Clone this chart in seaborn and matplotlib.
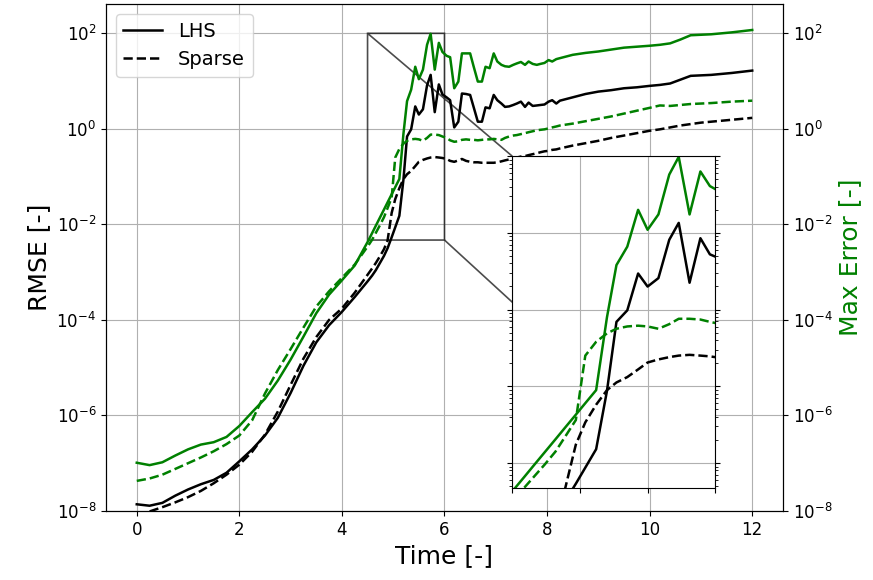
import numpy as np
import pandas as pd
import matplotlib
matplotlib.use("Agg")
import matplotlib.pyplot as plt
import seaborn as sns

# ---- data (values given as log10 exponents) ----
time = [0.0, 0.25, 0.5, 0.75, 1.0, 1.25, 1.5, 1.75, 2.0, 2.25, 2.5, 2.75, 3.0, 3.25, 3.5, 3.75, 4.0, 4.25,
        4.51, 4.59, 4.66, 4.74, 4.82, 4.89, 4.97, 5.04, 5.12, 5.20,
        5.27, 5.35, 5.43, 5.50, 5.58, 5.66, 5.73, 5.81, 5.89, 5.96,
        6.04, 6.11, 6.19, 6.27, 6.34, 6.42, 6.50, 6.57, 6.65, 6.73,
        6.80, 6.88, 6.96, 7.03, 7.11, 7.18, 7.26, 7.34, 7.41, 7.49,
        7.57, 7.64, 7.72, 7.80, 7.87, 7.95, 8.03, 8.10, 8.18, 8.25,
        8.5, 8.75, 9.0, 9.25, 9.5, 9.75, 10.0, 10.2, 10.4, 10.6,
        10.8, 11.0, 11.2, 11.6, 12.0]

lhs_rmse_exp = [-7.86, -7.89, -7.83, -7.68, -7.55, -7.44, -7.35, -7.20, -6.96, -6.71, -6.42, -6.05, -5.53, -4.96, -4.47, -4.11, -3.83, -3.52,
                -3.18, -3.07, -2.96, -2.81, -2.66, -2.50, -2.27, -2.06, -1.82, -1.06,
                -0.16, -0.01, 0.47, 0.30, 0.41, 0.91, 1.13, 0.35, 0.93, 0.72,
                0.66, 0.60, 0.03, 0.15, 0.74, 0.73, 0.71, 0.45, 0.15, 0.15,
                0.45, 0.43, 0.71, 0.60, 0.53, 0.46, 0.47, 0.50, 0.53, 0.57,
                0.46, 0.55, 0.48, 0.49, 0.50, 0.51, 0.57, 0.60, 0.53, 0.59,
                0.66, 0.73, 0.78, 0.81, 0.85, 0.87, 0.90, 0.92, 0.95, 1.03,
                1.11, 1.12, 1.13, 1.17, 1.22]

sparse_rmse_exp = [-8.08, -8.01, -7.92, -7.82, -7.71, -7.58, -7.42, -7.24, -7.03, -6.76, -6.40, -5.92, -5.36, -4.81, -4.36, -4.00, -3.76, -3.43,
                   -3.04, -2.92, -2.81, -2.67, -2.52, -2.34, -1.76, -1.47, -1.24, -1.05,
                   -0.95, -0.88, -0.78, -0.69, -0.65, -0.62, -0.60, -0.59, -0.60, -0.61,
                   -0.63, -0.67, -0.69, -0.66, -0.63, -0.67, -0.69, -0.70, -0.70, -0.71,
                   -0.71, -0.71, -0.71, -0.70, -0.68, -0.66, -0.64, -0.62, -0.60, -0.58,
                   -0.57, -0.55, -0.53, -0.51, -0.49, -0.47, -0.46, -0.44, -0.43, -0.41,
                   -0.35, -0.30, -0.25, -0.19, -0.14, -0.09, -0.04, -0.01, 0.03, 0.07,
                   0.10, 0.13, 0.15, 0.19, 0.23]

lhs_max_exp = [-6.99, -7.04, -6.98, -6.84, -6.71, -6.61, -6.56, -6.45, -6.22, -5.93, -5.65, -5.27, -4.83, -4.35, -3.86, -3.47, -3.17, -2.86,
               -2.35, -2.18, -2.03, -1.86, -1.69, -1.54, -1.37, -1.22, -1.05, -0.10,
               0.58, 0.82, 1.30, 1.04, 1.24, 1.76, 1.99, 1.24, 1.80, 1.61,
               1.53, 1.50, 0.85, 0.99, 1.58, 1.58, 1.58, 1.30, 0.99, 0.99,
               1.30, 1.27, 1.58, 1.41, 1.34, 1.31, 1.30, 1.34, 1.37, 1.40,
               1.34, 1.41, 1.36, 1.34, 1.36, 1.38, 1.44, 1.41, 1.46, 1.48,
               1.55, 1.59, 1.62, 1.66, 1.70, 1.72, 1.74, 1.76, 1.79, 1.87,
               1.96, 1.97, 1.98, 2.02, 2.07]

sparse_max_exp = [-7.37, -7.32, -7.24, -7.12, -7.00, -6.88, -6.75, -6.60, -6.42, -6.10, -5.54, -5.05, -4.61, -4.16, -3.72, -3.40, -3.12, -2.84,
                  -2.45, -2.32, -2.18, -2.02, -1.85, -1.66, -1.44, -0.60, -0.42, -0.31,
                  -0.25, -0.22, -0.21, -0.22, -0.25, -0.19, -0.12, -0.12, -0.13, -0.16,
                  -0.19, -0.24, -0.27, -0.26, -0.23, -0.22, -0.23, -0.23, -0.24, -0.23,
                  -0.22, -0.22, -0.21, -0.22, -0.23, -0.19, -0.16, -0.14, -0.13, -0.11,
                  -0.09, -0.07, -0.05, -0.03, -0.02, -0.01, 0.01, 0.03, 0.05, 0.07,
                  0.11, 0.16, 0.21, 0.26, 0.32, 0.38, 0.44, 0.49, 0.48, 0.50,
                  0.52, 0.53, 0.54, 0.57, 0.59]

df = pd.DataFrame({
    "time": time,
    "lhs_rmse": np.power(10.0, lhs_rmse_exp),
    "sparse_rmse": np.power(10.0, sparse_rmse_exp),
    "lhs_max": np.power(10.0, lhs_max_exp),
    "sparse_max": np.power(10.0, sparse_max_exp),
})

LW = 1.8
YLIM = (1e-8, 4.1e2)

fig = plt.figure(figsize=(8.73, 5.8), dpi=100)
ax = fig.add_axes([0.1214, 0.119, 0.7755, 0.874])
ax2 = ax.twinx()


def draw(a, legend=False):
    sns.lineplot(data=df, x="time", y="lhs_rmse", ax=a, color="black", lw=LW,
                 estimator=None, label="LHS" if legend else None, legend=legend)
    sns.lineplot(data=df, x="time", y="sparse_rmse", ax=a, color="black", lw=LW,
                 linestyle="--", estimator=None, label="Sparse" if legend else None, legend=legend)


def draw_green(a):
    sns.lineplot(data=df, x="time", y="lhs_max", ax=a, color="green", lw=LW,
                 estimator=None, legend=False)
    sns.lineplot(data=df, x="time", y="sparse_max", ax=a, color="green", lw=LW,
                 linestyle="--", estimator=None, legend=False)


draw(ax, legend=True)
draw_green(ax2)

for a in (ax, ax2):
    a.set_yscale("log")
    a.set_ylim(*YLIM)
    a.set_xlim(-0.6, 12.6)
    a.tick_params(labelsize=12)

ax.grid(True, color="#b0b0b0", lw=0.8)
ax.set_xlabel("Time [-]", fontsize=18)
ax.set_ylabel("RMSE [-]", fontsize=18)
ax2.set_ylabel("Max Error [-]", fontsize=18, color="green")
ax.legend(loc="upper left", fontsize=14)

# inset zoom
axins = ax.inset_axes([0.6, 0.045, 0.3, 0.655])
draw(axins)
draw_green(axins)
axins.set_yscale("log")
axins.set_xlim(4.5, 6.0)
axins.set_ylim(4.7e-3, 100)
axins.set_xticks([4.5, 5.0, 5.5, 6.0])
axins.grid(True, color="#b0b0b0", lw=0.8)
axins.tick_params(which="both", left=True, right=True, labelleft=False, labelbottom=False)
axins.set_xlabel("")
axins.set_ylabel("")
ax.indicate_inset_zoom(axins, edgecolor="black", alpha=0.7, linewidth=1.2)

fig.savefig("out.png", dpi=100)
